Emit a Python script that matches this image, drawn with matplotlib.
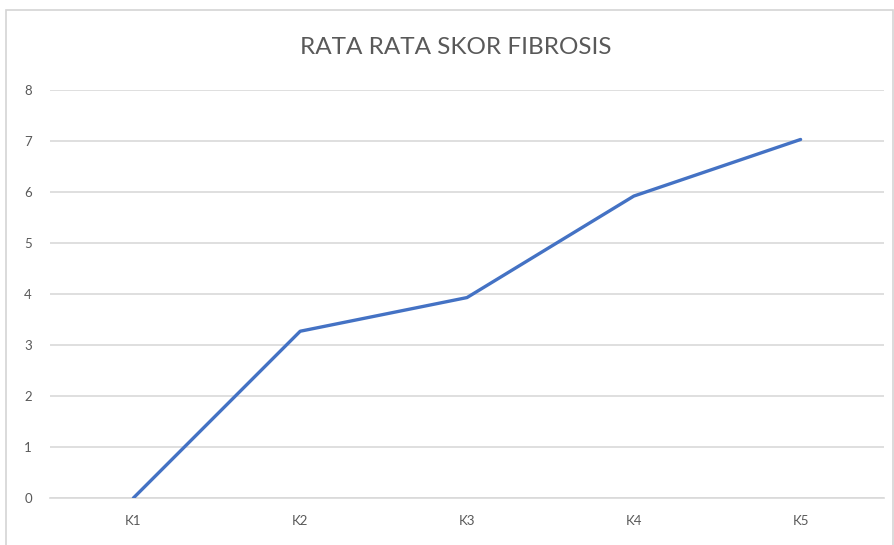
import matplotlib.pyplot as plt
from matplotlib.patches import Rectangle

categories = ['K1', 'K2', 'K3', 'K4', 'K5']
skor = [0.0, 3.27, 3.93, 5.92, 7.03]
y_ticks = [0, 1, 2, 3, 4, 5, 6, 7, 8]
title = 'RATA RATA SKOR FIBROSIS'

FONT = ['Lato', 'DejaVu Sans']

W, H = 895, 545
fig = plt.figure(figsize=(W / 100, H / 100), dpi=100)

# chart-area border like an Excel chart object
fig.patches.append(Rectangle((6 / W, -0.01), (893 - 6) / W, 1 - 10 / H + 0.01,
                             transform=fig.transFigure, fill=False,
                             edgecolor='#d4d4d4', linewidth=1.2))

left, right = 50, 884
top, bottom = 90, 498
ax = fig.add_axes([left / W, 1 - bottom / H, (right - left) / W, (bottom - top) / H])

x = range(len(categories))
ax.plot(x, skor, color='#4472C4', linewidth=2.4, solid_capstyle='round', zorder=3)

ax.set_xlim(-0.5, len(categories) - 0.5)
ax.set_ylim(0, 8)
ax.set_xticks(list(x))
ax.set_xticklabels(categories)
ax.set_yticks(y_ticks)

ax.grid(axis='y', color='#d9d9d9', linewidth=1.2)
ax.set_axisbelow(True)
for s in ['top', 'right', 'left']:
    ax.spines[s].set_visible(False)
ax.spines['bottom'].set_color('#d9d9d9')
ax.spines['bottom'].set_linewidth(1.2)
ax.tick_params(length=0, colors='#595959', labelsize=9.5, pad=12)
ax.tick_params(axis='y', pad=13)
for lab in ax.get_xticklabels() + ax.get_yticklabels():
    lab.set_family(FONT)

fig.text(456 / W, 1 - 47 / H, title, ha='center', va='center', fontsize=17.5,
         color='#595959', family=FONT)

fig.savefig('out.png', dpi=100)
